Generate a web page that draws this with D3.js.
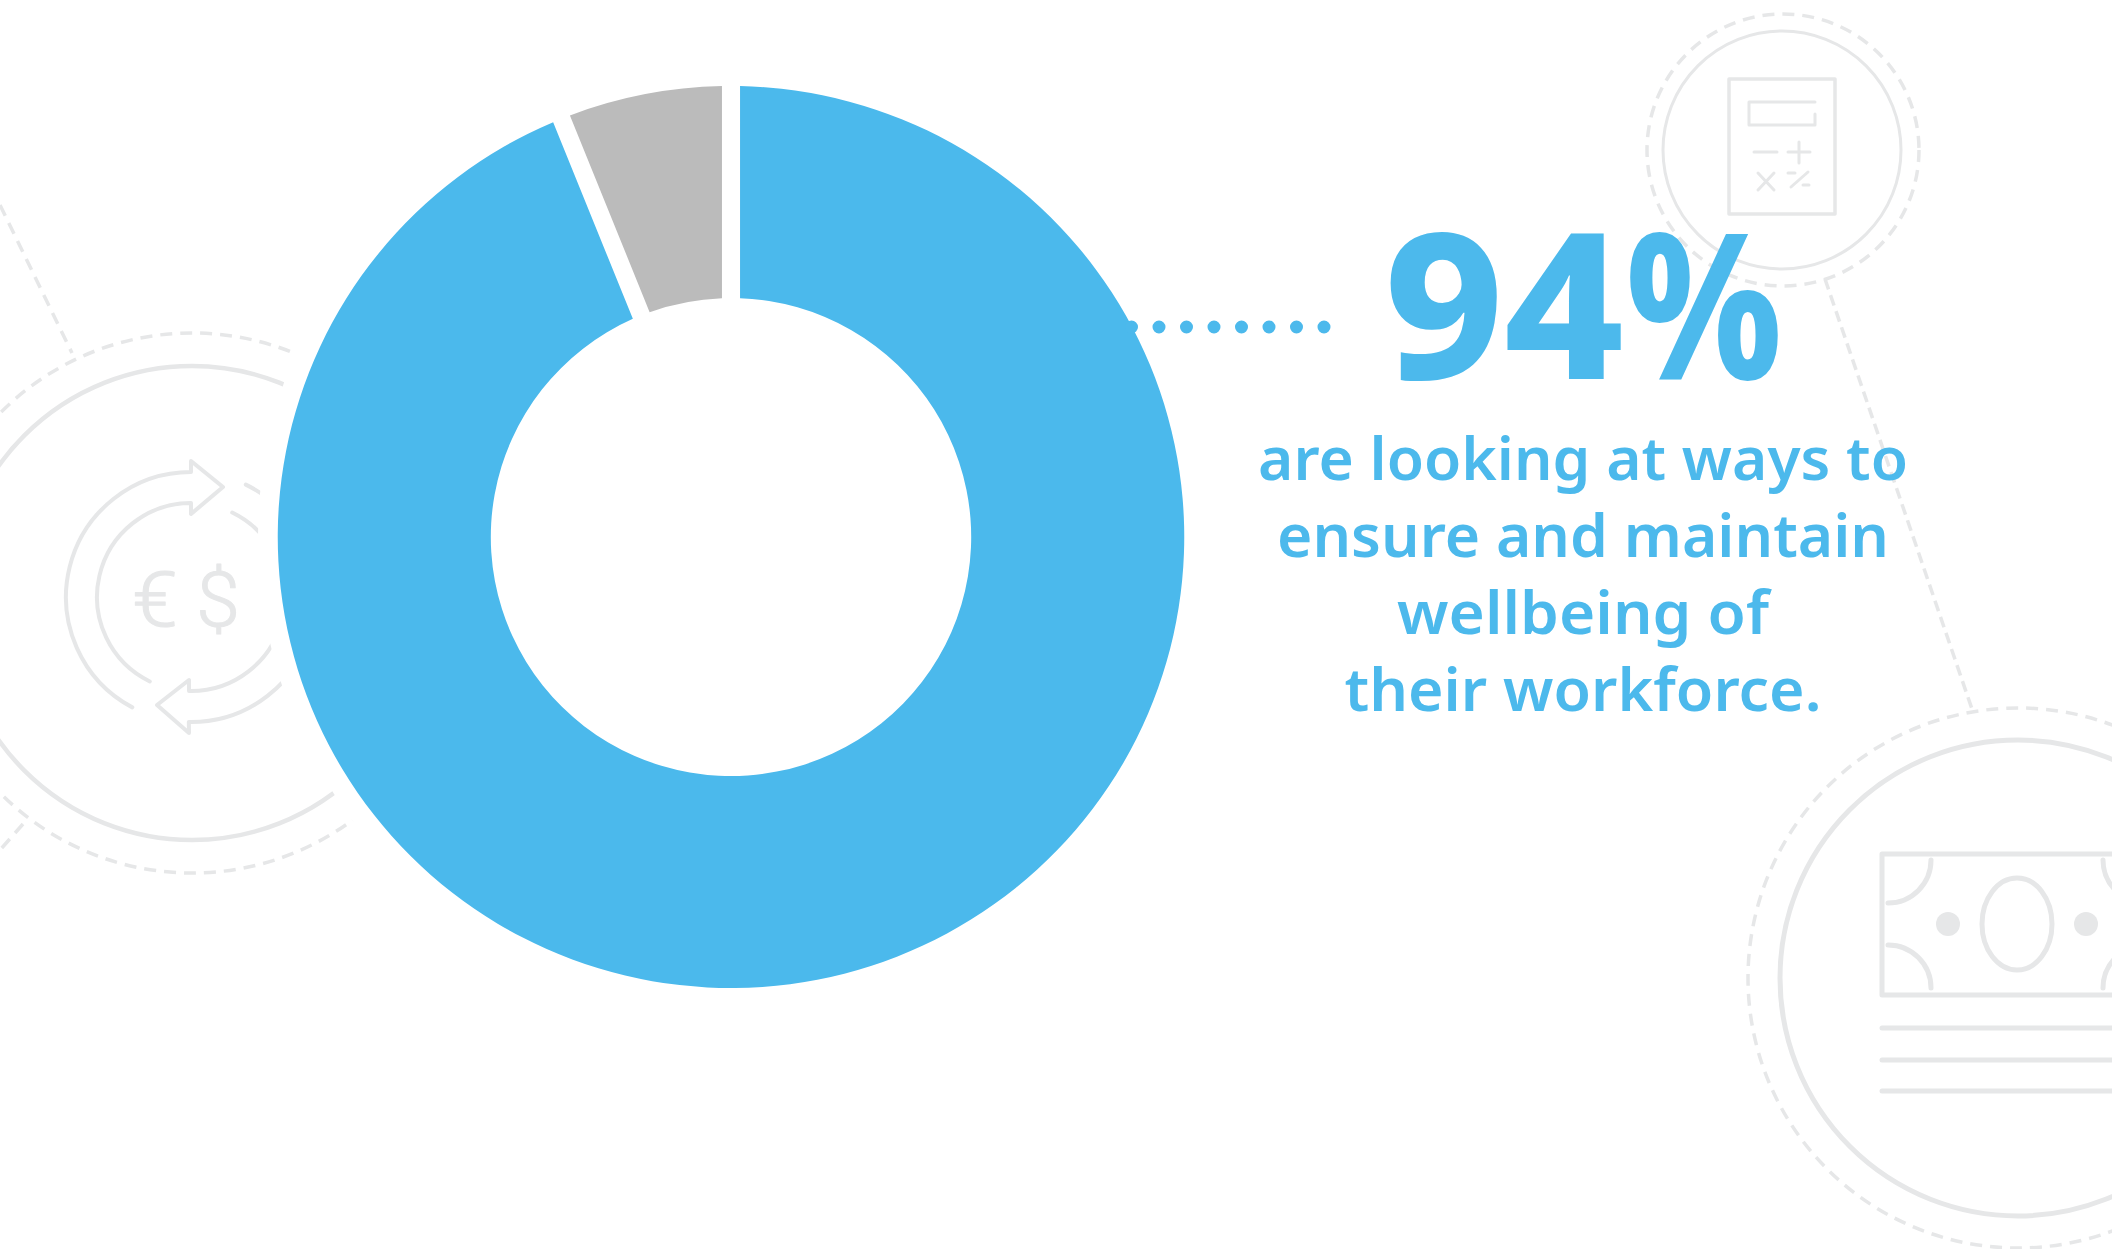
<!DOCTYPE html>
<html>
<head>
<meta charset="utf-8">
<script src="https://cdn.jsdelivr.net/npm/d3@7"></script>
<style>
  html, body { margin: 0; padding: 0; background: #fff; }
  svg { display: block; }
  .icon { fill: none; stroke: #e6e7e8; stroke-linecap: round; stroke-linejoin: round; }
</style>
</head>
<body>
<script>
// values
const categories = ['Yes', 'No'];
const shares = [93.9, 6.1];
const sliceColors = ['#4bb9ec', '#bbbbbb'];
const bigLabel = ['94', '%'];
const captionLines = ['are looking at ways to', 'ensure and maintain', 'wellbeing of', 'their workforce.'];
const captionWidths = [650, 612, 372, 477];

const width = 2112, height = 1249;
const blue = '#4cb9ec';
const cx = 731, cy = 537;

const svg = d3.select('body').append('svg')
    .attr('width', width)
    .attr('height', height);

// ---- background icons ----
const icons = svg.append('g').attr('class', 'icon');

function ring(x, y, r, dashed, sw) {
  const c = icons.append('circle').attr('cx', x).attr('cy', y).attr('r', r).attr('stroke-width', sw);
  if (dashed) c.attr('stroke-dasharray', '12 8').style('stroke-linecap', 'butt');
}

function seg(x1, y1, x2, y2, sw, dash) {
  const l = icons.append('line').attr('x1', x1).attr('y1', y1).attr('x2', x2).attr('y2', y2).attr('stroke-width', sw);
  if (dash) l.attr('stroke-dasharray', dash).style('stroke-linecap', 'butt');
}

function drawPath(build, sw) {
  const p = d3.path();
  build(p);
  return icons.append('path').attr('d', p.toString()).attr('stroke-width', sw);
}

const rad = d => d * Math.PI / 180;

// connecting dashed lines
seg(0, 205, 72, 353, 3.5, '12 8');
seg(23, 824, 0, 850, 3.5, '12 8');
seg(1825, 279, 1973, 712, 3.5, '11 6');

// left icon: money exchange
ring(192, 603, 270, true, 3.5);
ring(192, 603, 237, false, 4.5);

const ax = 191, ay = 597, rOut = 125, rIn = 94;
drawPath(p => {
  // top arrow, outer arc round the left side, head, inner arc back
  p.arc(ax, ay, rOut, rad(118), rad(270), false);
  p.lineTo(191, 461);
  p.lineTo(223, 487);
  p.lineTo(191, 514);
  p.lineTo(191, ay - rIn);
  p.arc(ax, ay, rIn, rad(270), rad(116), true);
}, 4);
drawPath(p => {
  // bottom arrow, same idea, passes behind the donut
  p.arc(ax, ay, rOut, rad(-64), rad(91), false);
  p.lineTo(189, 733);
  p.lineTo(157, 705);
  p.lineTo(189, 680);
  p.lineTo(189, ay + rIn);
  p.arc(ax, ay, rIn, rad(91), rad(-64), true);
}, 4);

[['€', 155, 46], ['$', 218, 44]].forEach(g => {
  icons.append('text').attr('x', g[1]).attr('y', 626)
      .attr('text-anchor', 'middle')
      .attr('textLength', g[2]).attr('lengthAdjust', 'spacingAndGlyphs')
      .style('font', '300 76px Roboto, sans-serif')
      .style('fill', '#e6e7e8').attr('stroke-width', 1)
      .text(g[0]);
});

// top right icon: calculator
ring(1783, 150, 136, true, 3.5);
ring(1782, 150, 119, false, 3);
icons.append('rect').attr('x', 1729).attr('y', 79).attr('width', 106).attr('height', 135).attr('stroke-width', 3.5);
drawPath(p => {
  p.moveTo(1815, 102);
  p.lineTo(1749, 102);
  p.lineTo(1749, 125);
  p.lineTo(1815, 125);
  p.lineTo(1815, 114);
}, 3);
seg(1754, 152, 1777, 152, 3);
seg(1788, 152, 1810, 152, 3);
seg(1799, 142, 1799, 163, 3);
seg(1758, 173, 1774, 190, 3);
seg(1774, 173, 1758, 190, 3);
seg(1788, 173, 1795, 173, 3);
seg(1791, 187, 1808, 172, 3);
seg(1803, 185, 1809, 185, 3);

// bottom right icon: banknote
ring(2018, 978, 270, true, 3.5);
ring(2018, 978, 238, false, 5);
icons.append('rect').attr('x', 1882).attr('y', 854).attr('width', 270).attr('height', 141).attr('stroke-width', 5);
icons.append('ellipse').attr('cx', 2017).attr('cy', 924).attr('rx', 35).attr('ry', 46).attr('stroke-width', 5);
[1948, 2086].forEach(x => {
  icons.append('ellipse').attr('cx', x).attr('cy', 924).attr('rx', 12).attr('ry', 12)
      .style('fill', '#e6e7e8').style('stroke', 'none');
});
drawPath(p => { p.arc(1888, 860, 43, 0, Math.PI / 2, false); }, 5);
drawPath(p => { p.arc(1888, 988, 43, -Math.PI / 2, 0, false); }, 5);
drawPath(p => { p.arc(2146, 860, 43, Math.PI, Math.PI / 2, true); }, 5);
drawPath(p => { p.arc(2146, 988, 43, -Math.PI / 2, Math.PI, true); }, 5);
[1028, 1060, 1091].forEach(y => seg(1882, y, 2152, y, 5));

// ---- donut ----
// white halo knocks the icons out around the ring
svg.append('circle').attr('cx', cx).attr('cy', cy).attr('r', 473).attr('fill', '#fff');

const pie = d3.pie().sort(null);
const arc = d3.arc().innerRadius(239).outerRadius(451).padRadius(451).padAngle(18 / 451);

// the ring in the picture is a touch wider than tall
svg.append('g')
    .attr('transform', `translate(${cx},${cy}) scale(1.005,1)`)
  .selectAll('path')
  .data(pie(shares))
  .enter().append('path')
    .attr('d', arc)
    .attr('fill', (d, i) => sliceColors[i])
  .append('title')
    .text((d, i) => categories[i]);

// dotted leader from the ring to the number
svg.append('line')
    .attr('x1', 1131.5).attr('y1', 327)
    .attr('x2', 1327).attr('y2', 327)
    .attr('stroke', blue)
    .attr('stroke-width', 13)
    .attr('stroke-linecap', 'round')
    .attr('stroke-dasharray', '0 27.5');

// ---- text ----
// digits and percent sign squeezed separately, the % is narrow in the original
const big = svg.append('text')
    .attr('y', 379)
    .style('font', '800 204px "Noto Sans", sans-serif')
    .attr('fill', blue);
big.append('tspan')
    .attr('x', 1384)
    .attr('textLength', 240).attr('lengthAdjust', 'spacingAndGlyphs')
    .text(bigLabel[0]);
big.append('tspan')
    .attr('x', 1626)
    .attr('textLength', 156).attr('lengthAdjust', 'spacingAndGlyphs')
    .text(bigLabel[1]);

svg.append('g').selectAll('text')
  .data(captionLines)
  .enter().append('text')
    .attr('x', 1583)
    .attr('y', (d, i) => 480 + i * 77)
    .attr('text-anchor', 'middle')
    .attr('textLength', (d, i) => captionWidths[i])
    .attr('lengthAdjust', 'spacingAndGlyphs')
    .style('font', '600 60px "Noto Sans", sans-serif')
    .attr('fill', blue)
    .text(d => d);
</script>
</body>
</html>
